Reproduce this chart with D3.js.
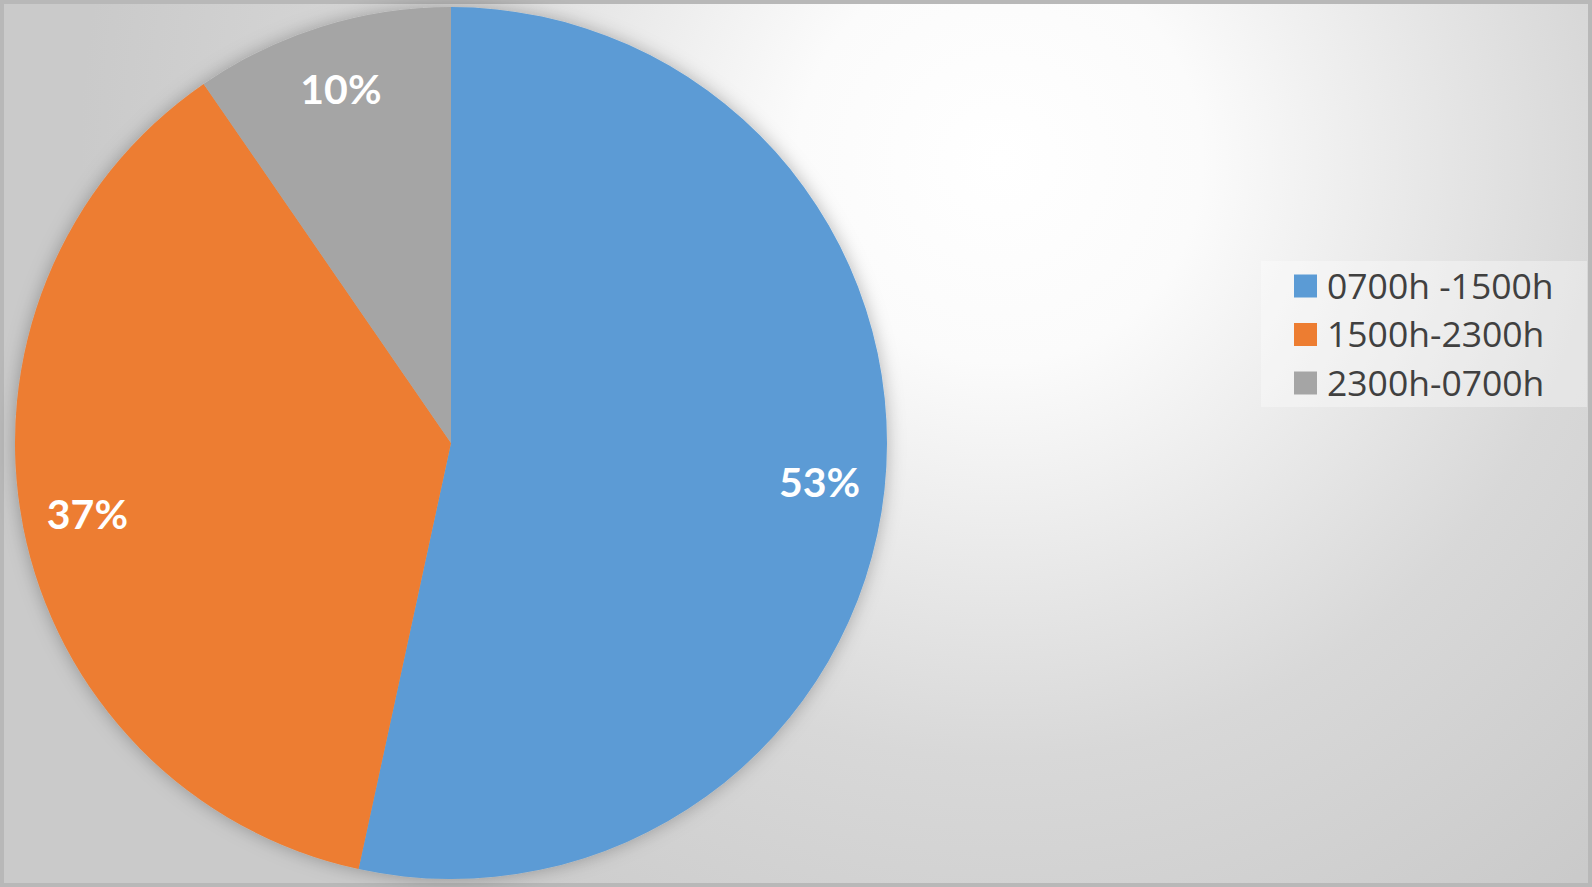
<!DOCTYPE html>
<html>
<head>
<meta charset="utf-8">
<script src="https://cdn.jsdelivr.net/npm/d3@7"></script>
<style>
  html, body { margin: 0; padding: 0; background: #b8b8b8; }
  svg { display: block; }
</style>
</head>
<body>
<svg id="chart"></svg>
<script>
const categories = ["0700h -1500h", "1500h-2300h", "2300h-0700h"];
const values = [53.4, 37.0, 9.6];
const labels = ["53%", "37%", "10%"];
const colors = ["#5b9bd5", "#ed7d31", "#a5a5a5"];

const width = 1592;
const height = 887;
const border = 4;

const svg = d3.select("#chart").attr("width", width).attr("height", height);

const defs = svg.append("defs");
const bg = defs
  .append("radialGradient")
  .attr("id", "bg")
  .attr("gradientUnits", "userSpaceOnUse")
  .attr("cx", 1000)
  .attr("cy", 160)
  .attr("r", 920);
bg.append("stop").attr("offset", "0%").attr("stop-color", "#ffffff");
bg.append("stop").attr("offset", "22%").attr("stop-color", "#fbfbfb");
bg.append("stop").attr("offset", "65%").attr("stop-color", "#d8d8d8");
bg.append("stop").attr("offset", "100%").attr("stop-color", "#cacaca");

const shadow = defs
  .append("filter")
  .attr("id", "shadow")
  .attr("x", "-10%")
  .attr("y", "-10%")
  .attr("width", "120%")
  .attr("height", "120%");
shadow
  .append("feDropShadow")
  .attr("dx", 0)
  .attr("dy", 0)
  .attr("stdDeviation", 9)
  .attr("flood-color", "#000")
  .attr("flood-opacity", 0.28);

// frame + background
svg.append("rect").attr("width", width).attr("height", height).attr("fill", "#b8b8b8");
svg
  .append("rect")
  .attr("x", border)
  .attr("y", border)
  .attr("width", width - 2 * border)
  .attr("height", height - 2 * border)
  .attr("fill", "url(#bg)");

const cx = 451;
const cy = 443;
const radius = 436;

const pie = d3.pie().sort(null).value((d) => d);
const arc = d3.arc().innerRadius(0).outerRadius(radius);
const labelArc = d3.arc().innerRadius(radius * 0.85).outerRadius(radius * 0.85);

const g = svg.append("g").attr("transform", `translate(${cx},${cy})`);

const arcs = pie(values);

g.append("g")
  .attr("filter", "url(#shadow)")
  .selectAll("path")
  .data(arcs)
  .enter()
  .append("path")
  .attr("d", arc)
  .attr("fill", (d, i) => colors[i]);

g.selectAll(".label")
  .data(arcs)
  .enter()
  .append("text")
  .attr("class", "label")
  .attr("transform", (d) => `translate(${labelArc.centroid(d)})`)
  .attr("text-anchor", "middle")
  .attr("dy", "0.36em")
  .attr("fill", "#fff")
  .style("font-family", "Lato, 'Open Sans', sans-serif")
  .style("font-weight", "bold")
  .style("font-size", "41px")
  .text((d, i) => labels[i]);

// legend
const legend = svg.append("g").attr("transform", "translate(1261,261)");
legend
  .append("rect")
  .attr("width", 326)
  .attr("height", 146)
  .attr("fill", "#ffffff")
  .attr("fill-opacity", 0.35);

const rowY = d3.scalePoint().domain(categories).range([25, 122]);

const item = legend
  .selectAll(".item")
  .data(categories)
  .enter()
  .append("g")
  .attr("class", "item")
  .attr("transform", (d) => `translate(0,${rowY(d)})`);

item
  .append("rect")
  .attr("x", 33)
  .attr("y", -11.5)
  .attr("width", 23)
  .attr("height", 23)
  .attr("fill", (d, i) => colors[i]);

item
  .append("text")
  .attr("x", 66)
  .attr("dy", "0.36em")
  .attr("fill", "#404040")
  .style("font-family", "'Open Sans', sans-serif")
  .style("font-size", "35.5px")
  .text((d) => d);
</script>
</body>
</html>
